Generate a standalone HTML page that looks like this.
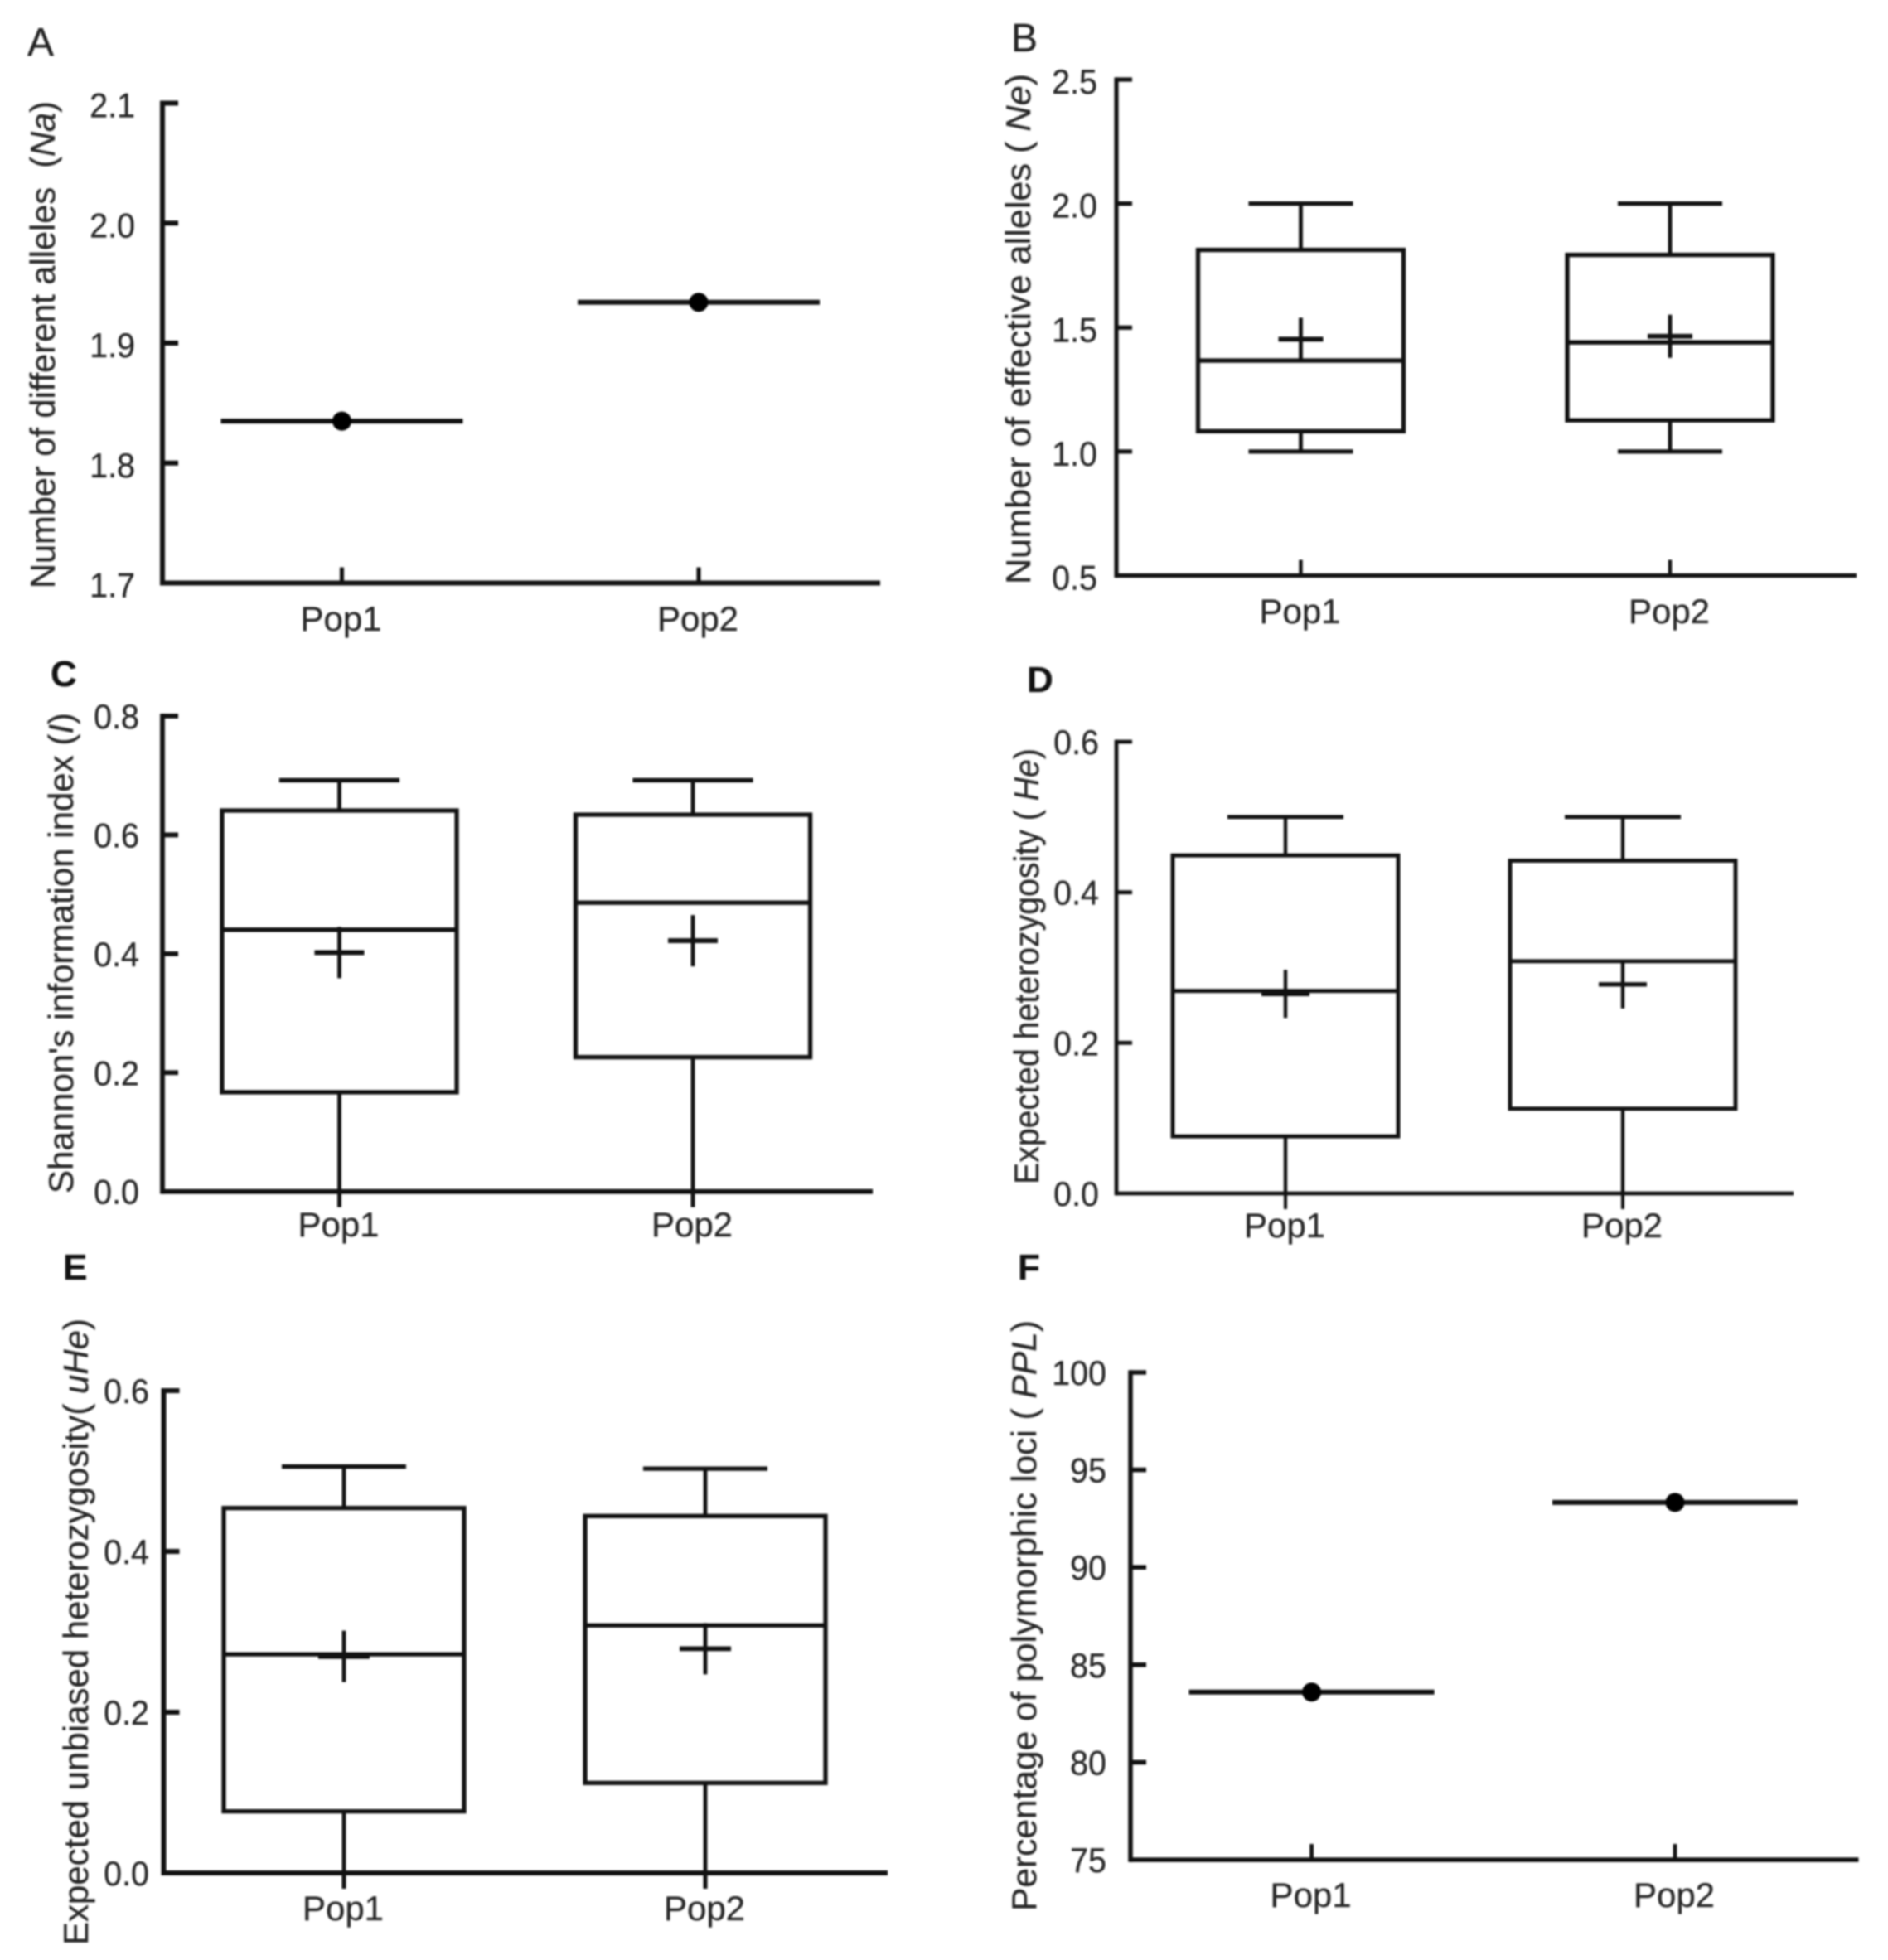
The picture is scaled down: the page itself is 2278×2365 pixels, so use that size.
<!DOCTYPE html>
<html lang="en">
<head>
<meta charset="utf-8">
<title>Genetic diversity indices for Pop1 and Pop2</title>
<style>
html,body{margin:0;padding:0;background:#fff;width:2278px;height:2365px;overflow:hidden}
svg{display:block;filter:blur(1px)}
text{font-family:"Liberation Sans",sans-serif;fill:#262626;stroke:#262626;stroke-width:0.3px}
.ttl{font-size:42px}
.ltr{font-size:48px;fill:#222}
.ltrb{font-size:44px;fill:#111;font-weight:bold}
</style>
</head>
<body>
<svg id="fig" xmlns="http://www.w3.org/2000/svg" width="2278" height="2365" viewBox="0 0 2278 2365">
<rect x="0" y="0" width="2278" height="2365" fill="#fff"/>

<text class="ltr" x="33" y="67">A</text>
<text class="ltr" x="1220" y="62">B</text>
<text class="ltrb" x="61" y="828">C</text>
<text class="ltrb" x="1239" y="835">D</text>
<text class="ltrb" x="76" y="1544">E</text>
<text class="ltrb" x="1228" y="1544">F</text>

<text class="ttl" transform="translate(66,710) rotate(-90)" textLength="588" lengthAdjust="spacingAndGlyphs">Number of different alleles&#160;&#160;(<tspan font-style="italic">Na</tspan>)</text>
<text class="ttl" transform="translate(1243,705) rotate(-90)" textLength="616" lengthAdjust="spacingAndGlyphs">Number of effective alleles (&#160;<tspan font-style="italic">Ne</tspan>)</text>
<text class="ttl" transform="translate(88,1440) rotate(-90)" textLength="580" lengthAdjust="spacingAndGlyphs">Shannon's information index (<tspan font-style="italic">I</tspan>)</text>
<text class="ttl" transform="translate(1253,1429) rotate(-90)" textLength="526" lengthAdjust="spacingAndGlyphs">Expected heterozygosity (&#160;<tspan font-style="italic">He</tspan>)</text>
<text class="ttl" transform="translate(106,2347) rotate(-90)" textLength="756" lengthAdjust="spacingAndGlyphs">Expected unbiased heterozygosity(&#160;<tspan font-style="italic">uHe</tspan>)</text>
<text class="ttl" transform="translate(1250,2306) rotate(-90)" textLength="713" lengthAdjust="spacingAndGlyphs">Percentage of polymorphic loci (&#160;<tspan font-style="italic">PPL</tspan>)</text>
</svg>

<script>
// Shared categories
const categories = ["Pop1", "Pop2"];

// Panel A: number of different alleles
const ticksA = ["1.7", "1.8", "1.9", "2.0", "2.1"];
const meansA = [1.835, 1.934];

// Panel B: number of effective alleles
const ticksB = ["0.5", "1.0", "1.5", "2.0", "2.5"];
const whiskerHighB = [2.0, 2.0];
const q3B = [1.813, 1.793];
const medianB = [1.367, 1.44];
const q1B = [1.082, 1.126];
const whiskerLowB = [1.0, 1.0];
const meanB = [1.453, 1.465];

// Panel C: Shannon's information index
const ticksC = ["0.0", "0.2", "0.4", "0.6", "0.8"];
const whiskerHighC = [0.692, 0.692];
const q3C = [0.641, 0.634];
const medianC = [0.4405, 0.486];
const q1C = [0.167, 0.226];
const whiskerLowC = [0, 0];
const meanC = [0.402, 0.422];

// Panel D: expected heterozygosity
const ticksD = ["0.0", "0.2", "0.4", "0.6"];
const whiskerHighD = [0.5, 0.5];
const q3D = [0.449, 0.442];
const medianD = [0.269, 0.3085];
const q1D = [0.0758, 0.1126];
const whiskerLowD = [0, 0];
const meanD = [0.265, 0.2776];

// Panel E: expected unbiased heterozygosity
const ticksE = ["0.0", "0.2", "0.4", "0.6"];
const whiskerHighE = [0.5056, 0.503];
const q3E = [0.454, 0.444];
const medianE = [0.272, 0.308];
const q1E = [0.0767, 0.112];
const whiskerLowE = [0, 0];
const meanE = [0.2694, 0.279];

// Panel F: percentage of polymorphic loci
const ticksF = ["75", "80", "85", "90", "95", "100"];
const meansF = [83.6, 93.33];

const svg = document.getElementById('fig');
const NS = 'http://www.w3.org/2000/svg';

function mk(parent, tag, attrs, name) {
  const el = document.createElementNS(NS, tag);
  for (const k in attrs) el.setAttribute(k, attrs[k]);
  
  
  parent.appendChild(el);
  return el;
}
function seg(g, x1, y1, x2, y2, w, name) {
  return mk(g, 'line', {x1: x1, y1: y1, x2: x2, y2: y2, stroke: '#111', 'stroke-width': w}, name);
}
function label(g, px, py, anchor, squeeze, str, name) {
  const t = 'translate(' + px + ',' + py + ') scale(' + squeeze + ',1)';
  const lab = mk(g, 'text', {transform: t, 'text-anchor': anchor, 'font-size': 42}, name);
  lab.textContent = str;
}

function axes(id, frame, ticks, xTickDir) {
  const g = mk(svg, 'g', {}, 'panel-' + id);
  const vmin = parseFloat(ticks[0]), vmax = parseFloat(ticks[ticks.length - 1]);
  const y = v => frame.bottom + (v - vmin) / (vmax - vmin) * (frame.top - frame.bottom);
  const x = i => frame.cats[i];
  const w = frame.lw;
  seg(g, frame.left, frame.top - w / 2, frame.left, frame.bottom + w / 2, w, 'y-axis-line-' + id);
  seg(g, frame.left, frame.bottom, frame.right, frame.bottom, w, 'x-axis-line-' + id);
  ticks.forEach(t => {
    const v = parseFloat(t);
    if (v !== vmin) seg(g, frame.left, y(v), frame.left + 19, y(v), w, 'y-tick-' + id + '-' + t);
    label(g, frame.labelX, y(v) + frame.labelDy, 'end', 0.94, t, 'y-tick-label-' + id + '-' + t);
  });
  categories.forEach((c, i) => {
    seg(g, x(i), frame.bottom, x(i), frame.bottom + xTickDir * 19, w * 0.85, 'x-tick-' + id + '-' + c);
    label(g, x(i) - 1, frame.catY, 'middle', 1, c, 'x-tick-label-' + id + '-' + c);
  });
  return {g: g, x: x, y: y};
}

function meanPanel(id, frame, ticks, means) {
  const a = axes(id, frame, ticks, -1);
  means.forEach((m, i) => {
    seg(a.g, a.x(i) - frame.half, a.y(m), a.x(i) + frame.half, a.y(m), 6, 'mean-line-' + id + '-' + categories[i]);
    mk(a.g, 'circle', {cx: a.x(i), cy: a.y(m), r: 11.5, fill: '#000'}, 'mean-point-' + id + '-' + categories[i]);
  });
}

function boxPanel(id, frame, ticks, hi, q3, med, q1, lo, mean) {
  const a = axes(id, frame, ticks, frame.tickDir);
  const s = frame.sw;
  categories.forEach((c, i) => {
    const cx = a.x(i);
    const n = id + '-' + c;
    seg(a.g, cx, a.y(hi[i]), cx, a.y(q3[i]), s, 'upper-whisker-' + n);
    seg(a.g, cx - frame.cap, a.y(hi[i]), cx + frame.cap, a.y(hi[i]), s + 0.5, 'upper-cap-' + n);
    seg(a.g, cx, a.y(q1[i]), cx, a.y(lo[i]), s, 'lower-whisker-' + n);
    if (lo[i] > parseFloat(ticks[0])) {
      seg(a.g, cx - frame.cap, a.y(lo[i]), cx + frame.cap, a.y(lo[i]), s + 0.5, 'lower-cap-' + n);
    }
    mk(a.g, 'rect', {x: cx - frame.box, y: a.y(q3[i]), width: frame.box * 2, height: a.y(q1[i]) - a.y(q3[i]), fill: 'none', stroke: '#111', 'stroke-width': s + 0.5}, 'box-' + n);
    seg(a.g, cx - frame.box, a.y(med[i]), cx + frame.box, a.y(med[i]), s + 0.5, 'median-line-' + n);
    seg(a.g, cx - frame.plusW, a.y(mean[i]), cx + frame.plusW, a.y(mean[i]), s + 1, 'mean-plus-horizontal-' + n);
    seg(a.g, cx, a.y(mean[i]) - frame.plusH, cx, a.y(mean[i]) + frame.plusH, s, 'mean-plus-vertical-' + n);
  });
}

meanPanel('a', {left: 196, right: 1062, top: 124.5, bottom: 703.5, cats: [412.5, 843], labelX: 163, labelDy: 17, catY: 761, lw: 6, half: 146}, ticksA, meansA);

boxPanel('b', {left: 1347, right: 2240, top: 96, bottom: 694.5, cats: [1569.5, 2015], labelX: 1324, labelDy: 17, catY: 752, lw: 5.2, sw: 4.8, box: 124, cap: 63, plusW: 27, plusH: 26, tickDir: -1},
  ticksB, whiskerHighB, q3B, medianB, q1B, whiskerLowB, meanB);

boxPanel('c', {left: 196, right: 1053, top: 864, bottom: 1437.7, cats: [409.5, 836], labelX: 168, labelDy: 15, catY: 1492, lw: 5.8, sw: 4.8, box: 141.6, cap: 72.6, plusW: 30, plusH: 31, tickDir: 1},
  ticksC, whiskerHighC, q3C, medianC, q1C, whiskerLowC, meanC);

boxPanel('d', {left: 1347, right: 2164, top: 895, bottom: 1440, cats: [1551, 1958], labelX: 1326, labelDy: 15, catY: 1493, lw: 4.8, sw: 4.4, box: 136, cap: 70, plusW: 29, plusH: 29, tickDir: 1},
  ticksD, whiskerHighD, q3D, medianD, q1D, whiskerLowD, meanD);

boxPanel('e', {left: 197.5, right: 1071, top: 1678, bottom: 2260, cats: [415, 851], labelX: 180, labelDy: 15, catY: 2317, lw: 6, sw: 4.8, box: 145, cap: 75, plusW: 31, plusH: 31, tickDir: 1},
  ticksE, whiskerHighE, q3E, medianE, q1E, whiskerLowE, meanE);

meanPanel('f', {left: 1364, right: 2242.5, top: 1656, bottom: 2244, cats: [1582.6, 2021], labelX: 1335, labelDy: 15, catY: 2301, lw: 5.6, half: 148}, ticksF, meansF);
</script>
</body>
</html>
